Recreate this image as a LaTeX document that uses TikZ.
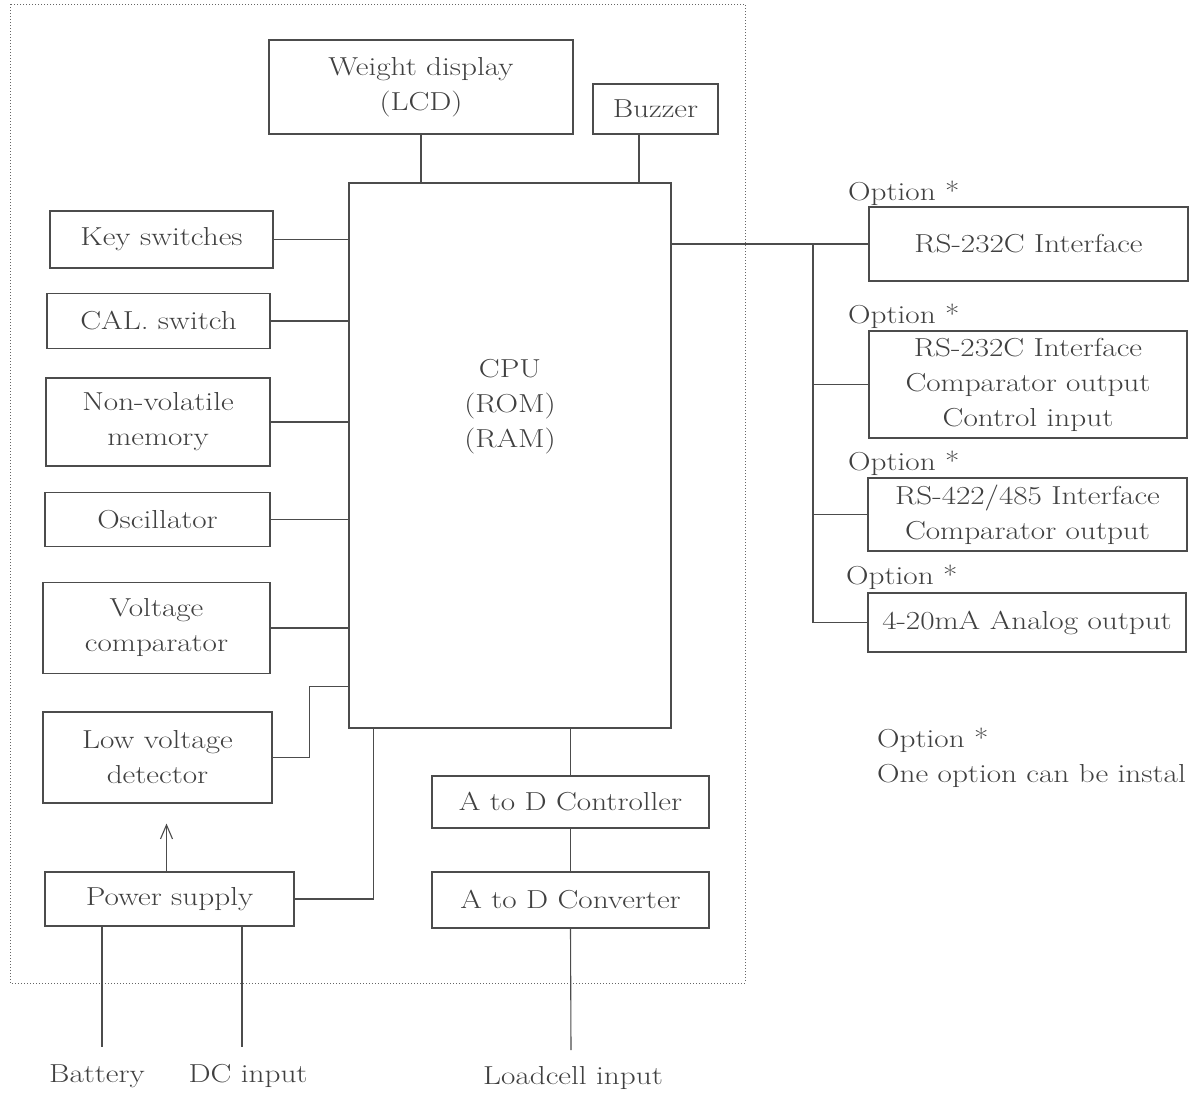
\documentclass[tikz,border=0pt]{standalone}
\usepackage{fontspec}
\setmainfont{Latin Modern Roman}[FakeStretch=1.2]
\usetikzlibrary{calc,arrows.meta}
\begin{document}
\begin{tikzpicture}[x={(1pt,0)},y={(0,-1pt)},
  every node/.style={text=black!75,font=\fontsize{26}{35}\selectfont},
  blk/.style={draw=black!70,line width=1.1pt,inner sep=0pt,align=center},
  lbl/.style={inner sep=0pt,align=center},
  wire/.style={draw=black!70,line width=1.1pt},
  frame/.style={draw=black!60,line width=1pt,dotted}]
\useasboundingbox (0,0) rectangle (1195,1095);
% outer frame
\draw[frame] (10,4) rectangle (745,983);
% blocks
\node[blk,minimum width=304pt,minimum height=94pt] (lcd) at (421,87) {Weight display\\(LCD)};
\node[blk,minimum width=125pt,minimum height=50pt] (buz) at (655.5,109) {Buzzer};
\node[blk,minimum width=322pt,minimum height=545pt] (cpu) at (510,455.5) {};
\node[lbl] (cputext) at (510,407) {CPU\\(ROM)\\(RAM)};
\node[blk,minimum width=223pt,minimum height=57pt] (key) at (161.5,239.5) {Key switches};
\node[blk,minimum width=223pt,minimum height=55pt] (cal) at (158.5,321) {CAL. switch};
\node[blk,minimum width=224pt,minimum height=88pt] (nvm) at (158,422) {Non-volatile\\memory};
\node[blk,minimum width=225pt,minimum height=54pt] (osc) at (157.5,519.5) {Oscillator};
\node[blk,minimum width=227pt,minimum height=91pt] (vcmp) at (156.5,628) {Voltage\\comparator};
\node[blk,minimum width=229pt,minimum height=91pt] (lvd) at (157.5,757.5) {Low voltage\\detector};
\node[blk,minimum width=249pt,minimum height=54pt] (psu) at (169.5,899) {Power supply};
\node[blk,minimum width=277pt,minimum height=52pt] (adc) at (570.5,802) {A to D Controller};
\node[blk,minimum width=277pt,minimum height=56pt] (adv) at (570.5,900) {A to D Converter};
% options
\node[blk,minimum width=319pt,minimum height=74pt] (o1) at (1028.5,244) {RS-232C Interface};
\node[blk,minimum width=318pt,minimum height=107pt] (o2) at (1028,384.5) {RS-232C Interface\\Comparator output\\Control input};
\node[blk,minimum width=319pt,minimum height=73pt] (o3) at (1027.5,514.5) {RS-422/485 Interface\\Comparator output};
\node[blk,minimum width=318pt,minimum height=59pt] (o4) at (1027,622.5) {4-20mA Analog output};
\node[lbl,anchor=west] (op1) at (848,193) {Option *};
\node[lbl,anchor=west] (op2) at (848,316) {Option *};
\node[lbl,anchor=west] (op3) at (848,463) {Option *};
\node[lbl,anchor=west] (op4) at (846,577) {Option *};
\node[lbl,anchor=west] (note1) at (877,740) {Option *};
\node[lbl,anchor=west] (note2) at (877,776) {One option can be instal};
% bottom labels
\node[lbl] (bat) at (97,1076) {Battery};
\node[lbl] (dcin) at (248,1076) {DC input};
\node[lbl] (lc) at (573,1078) {Loadcell input};
\coordinate (batend) at (102,1047);
\coordinate (dcend) at (242,1047);
\coordinate (lcend) at (571,1050);
\coordinate (bus) at (813,0);
% connectors
\draw[wire] (lcd.south) -- (lcd.south |- cpu.north);
\draw[wire] ($(buz.south)+(-16.5,0)$) -- ($(buz.south |- cpu.north)+(-16.5,0)$);
\draw[wire] (key.east) -- (key.east -| cpu.west);
\draw[wire] (cal.east) -- (cal.east -| cpu.west);
\draw[wire] (nvm.east) -- (nvm.east -| cpu.west);
\draw[wire] (osc.east) -- (osc.east -| cpu.west);
\draw[wire] (vcmp.east) -- (vcmp.east -| cpu.west);
\draw[wire] (lvd.east) -- ($(lvd.east)+(37,0)$) |- ($(cpu.south west)+(0,-42)$);
\draw[wire] (psu.east) -| ($(cpu.south west)+(25,0)$);
\draw[wire,-{Straight Barb[length=14pt,width=12pt,line width=1.1pt]}] ($(psu.north)+(-3,0)$) -- ($(psu.north |- lvd.south)+(-3,20)$);
\draw[wire] (psu.south -| batend) -- (batend);
\draw[wire] (psu.south -| dcend) -- (dcend);
\draw[wire] (adc.north) -- (adc.north |- cpu.south);
\draw[wire] (adc.south) -- (adv.north);
\draw[wire] (adv.south) -- (lcend);
\draw[wire] (o1.west -| cpu.east) -- (o1.west);
\draw[wire] (bus |- o1.west) -- (bus |- o4.west);
\draw[wire] (bus |- o2.west) -- (o2.west);
\draw[wire] (bus |- o3.west) -- (o3.west);
\draw[wire] (bus |- o4.west) -- (o4.west);
\end{tikzpicture}
\end{document}
